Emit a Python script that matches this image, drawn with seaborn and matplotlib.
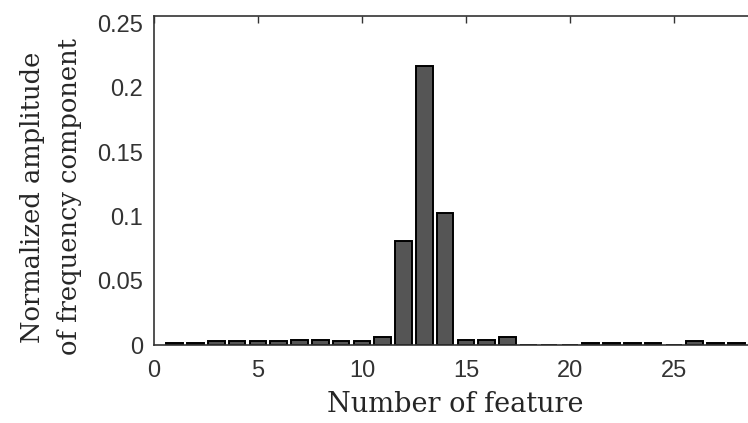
import matplotlib
matplotlib.use("Agg")
import matplotlib.pyplot as plt
import seaborn as sns
import pandas as pd

features = list(range(1, 29))
amplitudes = [0.0015, 0.0015, 0.003, 0.003, 0.003, 0.003, 0.004, 0.004, 0.003, 0.003,
              0.006, 0.081, 0.217, 0.103, 0.004, 0.004, 0.006, 0.0, 0.0, 0.0,
              0.0015, 0.0015, 0.0015, 0.0015, 0.0, 0.003, 0.0015, 0.0015]
xticks = [0, 5, 10, 15, 20, 25]
yticks = [0, 0.05, 0.1, 0.15, 0.2, 0.25]
ytick_labels = ["0", "0.05", "0.1", "0.15", "0.2", "0.25"]

df = pd.DataFrame({"feature": features, "amp": amplitudes})

sns.set_style("white")
fig = plt.figure(figsize=(7.48, 4.23), dpi=100)
ax = fig.add_axes([154/748, 78/423, 603/748, 329/423])

sns.barplot(data=df, x="feature", y="amp", native_scale=True, width=0.8,
            color="#555555", saturation=1, edgecolor="black", linewidth=1.4, ax=ax)

ax.set_xlim(0, 29)
ax.set_ylim(0, 0.256)
ax.set_xticks(xticks)
ax.set_xticklabels([str(t) for t in xticks], family="Liberation Sans", fontsize=17, color="#333333")
ax.set_yticks(yticks)
ax.set_yticklabels(ytick_labels, family="Liberation Sans", fontsize=17, color="#333333")
ax.tick_params(axis="x", pad=11)
ax.tick_params(axis="y", pad=8)
ax.tick_params(direction="in", length=5, width=1, top=True, right=True, color="#333333")
for s in ax.spines.values():
    s.set_color("#333333")
    s.set_linewidth(1.2)

ax.set_xlabel("Number of feature", family="DejaVu Serif", fontsize=19.5, labelpad=6)
ax.set_ylabel("Normalized amplitude\nof frequency component", family="DejaVu Serif",
              fontsize=18.5, linespacing=1.6)
ax.yaxis.set_label_coords(-0.119, 0.45)

fig.savefig("out.png", dpi=100)
